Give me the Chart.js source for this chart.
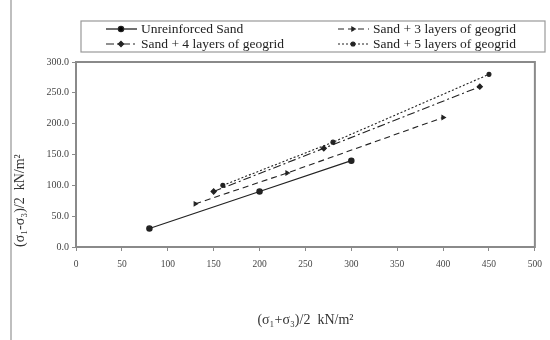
<!DOCTYPE html>
<html>
<head>
<meta charset="utf-8">
<script src="https://cdn.jsdelivr.net/npm/chart.js@4/dist/chart.umd.min.js"></script>
<style>
  html, body { margin: 0; padding: 0; background: #fff; }
  #wrap { width: 550px; height: 340px; position: relative; }
</style>
</head>
<body>
<div id="wrap"><canvas id="myChart"></canvas></div>
<script>
// data
const seriesNames = ['Unreinforced Sand', 'Sand + 3 layers of geogrid', 'Sand + 4 layers of geogrid', 'Sand + 5 layers of geogrid'];
const xUnreinforced = [80, 200, 300];
const yUnreinforced = [30, 90, 140];
const x3layers = [130, 230, 400];
const y3layers = [70, 120, 210];
const x4layers = [150, 270, 440];
const y4layers = [90, 160, 260];
const x5layers = [160, 280, 450];
const y5layers = [100, 170, 280];

const xTitle = '(σ\u2081+σ\u2083)/2  kN/m\u00b2';
const yTitle = '(σ\u2081-σ\u2083)/2  kN/m\u00b2';

const serif = "'Liberation Serif', 'DejaVu Serif', serif";
const ink = '#222';

function pts(xs, ys) {
  return xs.map((x, i) => ({ x: x, y: ys[i] }));
}

// border round the plot + left frame line + legend box
const frameAndLegend = {
  id: 'frameAndLegend',
  afterDraw(chart) {
    const { ctx, chartArea: { left, top, right, bottom } } = chart;
    ctx.save();
    ctx.strokeStyle = '#8a8a8a';
    ctx.lineWidth = 2;
    ctx.strokeRect(left, top, right - left, bottom - top);

    // outer frame line on the left
    ctx.strokeStyle = '#aaa';
    ctx.lineWidth = 1.5;
    ctx.beginPath();
    ctx.moveTo(11, 0);
    ctx.lineTo(11, 340);
    ctx.stroke();

    // legend box
    ctx.strokeStyle = '#999';
    ctx.lineWidth = 1.2;
    ctx.strokeRect(81, 21, 464, 31);

    const spots = [[106, 29], [338, 29], [106, 44], [338, 44]];
    chart.data.datasets.forEach((ds, i) => {
      const [sx, sy] = spots[i];
      ctx.strokeStyle = ds.borderColor;
      ctx.lineWidth = ds.borderWidth;
      ctx.setLineDash(ds.borderDash || []);
      ctx.beginPath();
      ctx.moveTo(sx, sy);
      ctx.lineTo(sx + 31, sy);
      ctx.stroke();
      ctx.setLineDash([]);
      Chart.helpers.drawPoint(ctx, {
        pointStyle: ds.pointStyle,
        radius: ds.pointRadius,
        rotation: ds.pointRotation || 0,
        borderWidth: 1
      }, sx + 15, sy);
      ctx.fillStyle = ink;
      ctx.font = '13.5px ' + serif;
      ctx.textBaseline = 'middle';
      ctx.fillText(ds.label, sx + 35, sy);
    });
    ctx.restore();
  }
};

const ctx = document.getElementById('myChart');
new Chart(ctx, {
  type: 'line',
  data: {
    datasets: [
      {
        label: seriesNames[0],
        data: pts(xUnreinforced, yUnreinforced),
        borderColor: ink, backgroundColor: ink,
        borderWidth: 1.3, pointStyle: 'circle', pointRadius: 2.6
      },
      {
        label: seriesNames[1],
        data: pts(x3layers, y3layers),
        borderColor: ink, backgroundColor: ink,
        borderWidth: 1.1, borderDash: [6, 4],
        pointStyle: 'triangle', pointRotation: 90, pointRadius: 2.3
      },
      {
        label: seriesNames[2],
        data: pts(x4layers, y4layers),
        borderColor: ink, backgroundColor: ink,
        borderWidth: 1.1, borderDash: [8, 3, 2, 3],
        pointStyle: 'rectRot', pointRadius: 2.6
      },
      {
        label: seriesNames[3],
        data: pts(x5layers, y5layers),
        borderColor: ink, backgroundColor: ink,
        borderWidth: 1.1, borderDash: [2, 2],
        pointStyle: 'circle', pointRadius: 2
      }
    ]
  },
  options: {
    responsive: true,
    maintainAspectRatio: false,
    animation: false,
    layout: { padding: { left: 0, right: 4, top: 62, bottom: 0 } },
    elements: { line: { tension: 0, fill: false } },
    scales: {
      x: {
        type: 'linear',
        min: 0, max: 500,
        afterFit(scale) { scale.height = 93; },
        border: { display: true, color: '#8a8a8a', width: 2 },
        grid: { drawOnChartArea: false, tickLength: 4, color: '#8a8a8a' },
        ticks: { stepSize: 50, color: '#444', font: { size: 9.5, family: serif }, padding: 8 },
        title: {
          display: true, text: xTitle, color: '#333',
          font: { size: 14, family: serif },
          padding: { top: 0, bottom: 11 }
        }
      },
      y: {
        min: 0, max: 300,
        afterFit(scale) { scale.width = 76; },
        border: { display: true, color: '#8a8a8a', width: 2 },
        grid: { drawOnChartArea: false, tickLength: 4, color: '#8a8a8a' },
        ticks: {
          stepSize: 50, color: '#444', font: { size: 10, family: serif }, padding: 3,
          callback: v => v.toFixed(1)
        },
        title: {
          display: true, text: yTitle, color: '#333', align: 'start',
          font: { size: 14, family: serif },
          padding: { top: 12, bottom: 0 }
        }
      }
    },
    plugins: {
      legend: { display: false },
      tooltip: { enabled: false }
    }
  },
  plugins: [frameAndLegend]
});
</script>
</body>
</html>
